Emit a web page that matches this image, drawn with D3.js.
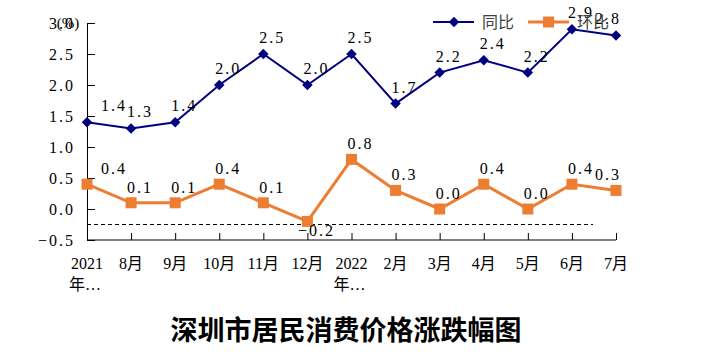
<!DOCTYPE html>
<html>
<head>
<meta charset="utf-8">
<script src="https://cdn.jsdelivr.net/npm/d3@7"></script>
<style>
  body { margin: 0; background: #fff; }
  svg { display: block; }
</style>
</head>
<body>
<div id="chart"></div>
<script>
// month labels (as shown, truncated ones included)
const months = ["2021年…", "8月", "9月", "10月", "11月", "12月", "2022年…", "2月", "3月", "4月", "5月", "6月", "7月"];
// 同比 (year on year)
const yoy = [1.4, 1.3, 1.4, 2.0, 2.5, 2.0, 2.5, 1.7, 2.2, 2.4, 2.2, 2.9, 2.8];
// 环比 (month on month)
const mom = [0.4, 0.1, 0.1, 0.4, 0.1, -0.2, 0.8, 0.3, 0.0, 0.4, 0.0, 0.4, 0.3];
const yTicks = [-0.5, 0.0, 0.5, 1.0, 1.5, 2.0, 2.5, 3.0];
const seriesNames = ["同比", "环比"];
const refLine = -0.25;

const width = 703, height = 362;
const numFont = "'Liberation Serif', 'DejaVu Serif', serif";
const cjkFont = "'Noto Sans CJK SC', sans-serif";
const navy = "#000080", orange = "#ED7D31";

const svg = d3.select("#chart").append("svg")
    .attr("width", width)
    .attr("height", height);

let x = d3.scalePoint()
    .domain(months)
    .range([87, 616]);

let y = d3.scaleLinear()
    .domain([-0.5, 3.0])
    .range([240, 23]);

// y axis, ticks point inwards
let yAxis = g => g
    .attr("transform", "translate(87,0)")
    .call(d3.axisLeft(y)
      .tickValues(yTicks)
      .tickSize(-8)
      .tickPadding(12)
      .tickFormat(d3.format(".1f")))
    .call(g => g.selectAll("text")
      .style("font-family", numFont)
      .style("font-size", "16px")
      .style("letter-spacing", "2px")
      .attr("fill", "#000"));

svg.append("g").call(yAxis);

svg.append("text")
    .attr("x", 68)
    .attr("y", 28)
    .attr("text-anchor", "middle")
    .style("font-family", numFont)
    .style("font-size", "15px")
    .text("(%)");

// x axis along the bottom (-0.5), ticks pointing up
let xAxis = g => g
    .attr("transform", `translate(0,${y(-0.5)})`)
    .call(d3.axisBottom(x).tickSize(-7).tickSizeOuter(0).tickFormat(""))
    .call(g => g.select(".domain").attr("d", `M87,0H616`));

svg.append("g").call(xAxis);

months.forEach(m => {
  let lines = m.includes("年") ? [m.split("年")[0], "年" + m.split("年")[1]] : [m];
  let t = svg.append("text")
      .attr("x", x(m))
      .attr("y", 269)
      .attr("text-anchor", "middle")
      .style("font-family", numFont + ", " + cjkFont)
      .style("font-size", "16px");
  lines.forEach((l, i) => {
    t.append("tspan")
      .attr("x", x(m))
      .attr("dy", i === 0 ? 0 : 21)
      .attr("text-anchor", i === 0 ? "middle" : "start")
      .attr("dx", i === 0 ? 0 : -18)
      .text(l);
  });
});

// dashed reference line
svg.append("line")
    .attr("x1", 87)
    .attr("x2", 593)
    .attr("y1", y(refLine))
    .attr("y2", y(refLine))
    .attr("stroke", "#000")
    .attr("stroke-width", 1)
    .attr("stroke-dasharray", "4,3");

let line = d3.line()
    .x((d, i) => x(months[i]))
    .y(d => y(d));

// 环比 series
svg.append("path")
    .datum(mom)
    .attr("fill", "none")
    .attr("stroke", orange)
    .attr("stroke-width", 3)
    .attr("d", line);

svg.append("g")
    .selectAll("rect")
    .data(mom)
    .enter().append("rect")
      .attr("x", (d, i) => x(months[i]) - 5.5)
      .attr("y", d => y(d) - 5.5)
      .attr("width", 11)
      .attr("height", 11)
      .attr("fill", orange);

// 同比 series
svg.append("path")
    .datum(yoy)
    .attr("fill", "none")
    .attr("stroke", navy)
    .attr("stroke-width", 2)
    .attr("d", line);

const diamond = d3.symbol().type(d3.symbolDiamond2).size(70);

svg.append("g")
    .selectAll("path")
    .data(yoy)
    .enter().append("path")
      .attr("d", diamond)
      .attr("transform", (d, i) => `translate(${x(months[i])},${y(d)})`)
      .attr("fill", navy);

// data labels
function labelDx(i, n) {
  if (i === 0) return 27;
  if (i === n - 1) return -8;
  return 9;
}

function addLabels(vals, isYoy) {
  svg.append("g")
    .selectAll("text")
    .data(vals)
    .enter().append("text")
      .attr("x", (d, i) => x(months[i]) + labelDx(i, vals.length))
      .attr("y", (d, i) => y(d) + (d < 0 ? 15 : (isYoy ? -11 : -10)))
      .attr("text-anchor", "middle")
      .style("font-family", numFont)
      .style("font-size", "16px")
      .style("letter-spacing", "2px")
      .text(d => d3.format(".1f")(d));
}

addLabels(mom, false);
addLabels(yoy, true);

// legend
const legend = svg.append("g");
[{name: seriesNames[0], c: navy, x0: 433}, {name: seriesNames[1], c: orange, x0: 528}].forEach((s, i) => {
  legend.append("line")
    .attr("x1", s.x0).attr("x2", s.x0 + 41)
    .attr("y1", 22).attr("y2", 22)
    .attr("stroke", s.c)
    .attr("stroke-width", i === 0 ? 2 : 3);
  if (i === 0) {
    legend.append("path")
      .attr("d", diamond)
      .attr("transform", `translate(${s.x0 + 21},22)`)
      .attr("fill", s.c);
  } else {
    legend.append("rect")
      .attr("x", s.x0 + 15).attr("y", 16.5)
      .attr("width", 11).attr("height", 11)
      .attr("fill", s.c);
  }
  legend.append("text")
    .attr("x", s.x0 + 49)
    .attr("y", 28)
    .style("font-family", cjkFont)
    .style("font-size", "16px")
    .attr("fill", "#404040")
    .text(s.name);
});

// title
svg.append("text")
    .attr("x", 346)
    .attr("y", 340)
    .attr("text-anchor", "middle")
    .style("font-family", cjkFont)
    .style("font-size", "27px")
    .style("font-weight", "bold")
    .text("深圳市居民消费价格涨跌幅图")
</script>
</body>
</html>
